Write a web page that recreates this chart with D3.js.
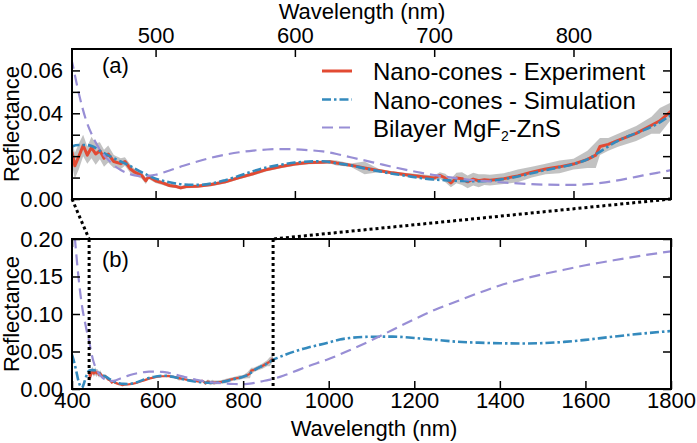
<!DOCTYPE html>
<html>
<head>
<meta charset="utf-8">
<script src="https://cdn.jsdelivr.net/npm/d3@7"></script>
<style>
  html, body { margin: 0; padding: 0; background: #fff; }
  svg { display: block; }
  text { font-family: "Liberation Sans", Arial, Helvetica, sans-serif; fill: #000; }
</style>
</head>
<body>
<svg id="chart" width="697" height="443"></svg>
<script>
// ---------- DATA ----------
const expWl = [440,442,445,448,451,454,457,460,463,466,470,475,478,482,485,490,493,495,500,505,
  510,515,518,522,530,540,550,560,570,580,590,600,610,620,625,630,640,650,660,670,
  680,690,700,704,708,712,716,720,724,728,732,736,740,750,760,770,780,790,800,810,
  816,819,825,832,845,856,862,870];
const expR = [0.022,0.0155,0.020,0.025,0.0205,0.024,0.021,0.0225,0.019,0.021,0.0175,0.0165,0.0175,0.014,0.0125,0.011,0.0085,0.0105,0.0085,0.0075,
  0.0063,0.0058,0.0052,0.0058,0.0060,0.0068,0.0080,0.0100,0.0118,0.0138,0.0152,0.0163,0.0170,0.0172,0.0174,0.0168,0.0158,0.0145,0.0133,0.0122,
  0.0113,0.0105,0.0098,0.0110,0.0098,0.0075,0.0098,0.0095,0.0080,0.0093,0.0085,0.0090,0.0088,0.0095,0.0108,0.0125,0.0140,0.0150,0.0163,0.0185,
  0.0205,0.0245,0.0255,0.0274,0.0306,0.0344,0.0365,0.041];
const expErr = [0.006,0.006,0.006,0.005,0.004,0.005,0.005,0.004,0.004,0.004,0.003,0.0025,0.002,0.002,0.0015,0.0015,0.0015,0.0012,0.001,0.001,
  0.0008,0.0008,0.0008,0.0008,0.0008,0.0008,0.0008,0.0008,0.0008,0.0008,0.0008,0.0008,0.0008,0.0008,0.0008,0.0012,0.0008,0.003,0.0008,0.0008,
  0.0008,0.001,0.0012,0.0015,0.002,0.002,0.0025,0.003,0.003,0.003,0.003,0.0025,0.0025,0.0025,0.003,0.0025,0.0025,0.003,0.0025,0.004,
  0.006,0.004,0.003,0.003,0.0035,0.004,0.006,0.004];

const simWl = [400,405,410,415,420,423,427,432,436,440,445,450,455,460,470,480,490,500,510,520,
  530,540,550,560,570,580,590,600,610,620,630,640,650,660,670,680,690,700,710,720,
  730,740,750,760,770,780,790,800,810,820,830,840,850,860,870,880,900,933,950,1000,
  1026,1050,1100,1150,1200,1250,1300,1350,1400,1450,1500,1550,1600,1650,1700,1750,1800];
const simR = [0.046,0.036,0.024,0.011,0.003,0.001,0.006,0.015,0.021,0.0245,0.0252,0.0252,0.0245,0.0225,0.019,0.016,0.0125,0.0095,0.0078,0.0068,
  0.0066,0.0072,0.0088,0.0108,0.013,0.0148,0.016,0.017,0.0175,0.0176,0.0167,0.0157,0.0143,0.013,0.0118,0.0108,0.0098,0.0091,0.0087,0.0084,
  0.0083,0.0085,0.0093,0.0105,0.012,0.0135,0.0148,0.0163,0.0185,0.0225,0.0265,0.0295,0.032,0.035,0.039,0.0415,0.046,0.0524,0.055,0.062,
  0.066,0.068,0.0697,0.0698,0.068,0.0655,0.063,0.0618,0.061,0.0607,0.0612,0.0628,0.0655,0.0688,0.072,0.0748,0.0773];

const bilWl = [400,405,410,415,420,425,430,435,440,445,450,455,460,465,470,475,480,485,490,495,
  500,510,520,530,540,550,560,570,580,590,600,610,620,630,640,650,660,670,680,690,
  700,710,720,730,740,750,760,770,780,790,800,810,820,830,840,850,860,870,900,950,
  1000,1050,1100,1150,1200,1250,1300,1350,1400,1450,1500,1550,1600,1650,1700,1750,1800];
const bilR = [0.27,0.215,0.18,0.15,0.125,0.105,0.09,0.076,0.064,0.049,0.037,0.029,0.023,0.019,0.0158,0.0135,0.012,0.011,0.0106,0.0108,
  0.0113,0.0133,0.0155,0.0175,0.0193,0.0207,0.0218,0.0226,0.0231,0.0233,0.0232,0.0228,0.0222,0.0210,0.0195,0.018,0.0165,0.015,0.0136,0.0123,
  0.0112,0.0102,0.0094,0.0087,0.0082,0.0077,0.0073,0.0069,0.0067,0.0066,0.0066,0.0069,0.0075,0.0085,0.0097,0.011,0.0122,0.0135,0.019,0.030,
  0.040,0.052,0.065,0.079,0.093,0.106,0.117,0.128,0.138,0.146,0.153,0.159,0.165,0.170,0.175,0.1795,0.1835];

const zoomRange = [440, 870];
const topXTicks = [500, 600, 700, 800];
const topYTicks = [0, 0.01, 0.02, 0.03, 0.04, 0.05, 0.06];
const topYLabeled = [0, 0.02, 0.04, 0.06];
const botXTicks = [400, 600, 800, 1000, 1200, 1400, 1600, 1800];
const botYTicks = [0, 0.05, 0.10, 0.15, 0.20];
const legendLabels = ["Nano-cones - Experiment", "Nano-cones - Simulation", "Bilayer MgF|2|-ZnS"];
const xLabel = "Wavelength (nm)";
const yLabel = "Reflectance";

// ---------- STYLE ----------
const C_RED = "#E24A33", C_BLUE = "#348ABD", C_PURPLE = "#988ED5", C_BAND = "#b3b3b3";
const FS = 22, FS_LEG = 24;

const svg = d3.select("#chart");
const L = 72, R = 671;
const topY = [49, 199], botY = [239, 389];

const xTop = d3.scaleLinear().domain(zoomRange).range([L, R]);
const yTop = d3.scaleLinear().domain([0, 0.07]).range([topY[1], topY[0]]);
const xBot = d3.scaleLinear().domain([400, 1800]).range([L, R]);
const yBot = d3.scaleLinear().domain([0, 0.2]).range([botY[1], botY[0]]);

const expData = expWl.map((w, i) => ({w, r: expR[i], e: expErr[i]}));
const simData = simWl.map((w, i) => ({w, r: simR[i]}));
const bilData = bilWl.map((w, i) => ({w, r: bilR[i]}));

const defs = svg.append("defs");
defs.append("clipPath").attr("id", "clipTop").append("rect")
  .attr("x", L).attr("y", topY[0]).attr("width", R - L).attr("height", topY[1] - topY[0]);
defs.append("clipPath").attr("id", "clipBot").append("rect")
  .attr("x", L).attr("y", botY[0]).attr("width", R - L).attr("height", botY[1] - botY[0]);

function drawPanel(x, y, clipId, lw) {
  const g = svg.append("g").attr("clip-path", `url(#${clipId})`);
  const area = d3.area().x(d => x(d.w)).y0(d => y(d.r - d.e)).y1(d => y(d.r + d.e)).curve(d3.curveLinear);
  g.append("path").datum(expData).attr("d", area).attr("fill", C_BAND).attr("opacity", 0.8);
  const line = d3.line().x(d => x(d.w)).y(d => y(d.r));
  const sline = d3.line().x(d => x(d.w)).y(d => y(d.r)).curve(d3.curveMonotoneX);
  g.append("path").datum(expData).attr("d", line).attr("fill", "none")
    .attr("stroke", C_RED).attr("stroke-width", lw.red).attr("stroke-linejoin", "round");
  g.append("path").datum(simData).attr("d", sline).attr("fill", "none")
    .attr("stroke", C_BLUE).attr("stroke-width", lw.blue).attr("stroke-dasharray", "9,3,2.5,3");
  g.append("path").datum(bilData).attr("d", sline).attr("fill", "none")
    .attr("stroke", C_PURPLE).attr("stroke-width", lw.purple).attr("stroke-dasharray", "11,6");
  return g;
}

drawPanel(xTop, yTop, "clipTop", {red: 3, blue: 2.6, purple: 2.2});
drawPanel(xBot, yBot, "clipBot", {red: 2.2, blue: 2.6, purple: 2.2});

// zoom indicator dotted lines
const dot = {stroke: "#000", "stroke-width": 3, "stroke-dasharray": "3,3"};
function dline(x1, y1, x2, y2) {
  const l = svg.append("line").attr("x1", x1).attr("y1", y1).attr("x2", x2).attr("y2", y2);
  Object.entries(dot).forEach(([k, v]) => l.attr(k, v));
}
dline(xTop(zoomRange[0]), yTop(0), xBot(zoomRange[0]), yBot(0.2));
dline(xTop(zoomRange[1]), yTop(0), xBot(zoomRange[1]), yBot(0.2));
dline(xBot(zoomRange[0]), yBot(0.2), xBot(zoomRange[0]), yBot(0));
dline(xBot(zoomRange[1]), yBot(0.2), xBot(zoomRange[1]), yBot(0));

// axes
function styleAxis(g) {
  g.select(".domain").remove();
  g.selectAll(".tick line").attr("stroke", "#000").attr("stroke-width", 1.5);
  g.selectAll(".tick text").attr("font-size", FS).attr("font-family", "Liberation Sans, Arial, sans-serif").attr("fill", "#000");
}
const TK = -8;
// top panel
svg.append("g").attr("transform", `translate(0,${topY[0]})`)
  .call(d3.axisTop(xTop).tickValues(topXTicks).tickSize(TK).tickPadding(6).tickFormat(d3.format("d"))).call(styleAxis);
svg.append("g").attr("transform", `translate(0,${topY[1]})`)
  .call(d3.axisBottom(xTop).tickValues(topXTicks).tickSize(TK).tickFormat("")).call(styleAxis);
svg.append("g").attr("transform", `translate(${L},0)`)
  .call(d3.axisLeft(yTop).tickValues(topYTicks).tickSize(TK).tickPadding(9)
    .tickFormat(d => topYLabeled.some(v => Math.abs(v - d) < 1e-9) ? d3.format(".2f")(d) : "")).call(styleAxis);
svg.append("g").attr("transform", `translate(${R},0)`)
  .call(d3.axisRight(yTop).tickValues(topYTicks).tickSize(TK).tickFormat("")).call(styleAxis);
// bottom panel
svg.append("g").attr("transform", `translate(0,${botY[1]})`)
  .call(d3.axisBottom(xBot).tickValues(botXTicks).tickSize(TK).tickPadding(3).tickFormat(d3.format("d"))).call(styleAxis);
svg.append("g").attr("transform", `translate(0,${botY[0]})`)
  .call(d3.axisTop(xBot).tickValues(botXTicks).tickSize(TK).tickFormat("")).call(styleAxis);
svg.append("g").attr("transform", `translate(${L},0)`)
  .call(d3.axisLeft(yBot).tickValues(botYTicks).tickSize(TK).tickPadding(9).tickFormat(d3.format(".2f"))).call(styleAxis);
svg.append("g").attr("transform", `translate(${R},0)`)
  .call(d3.axisRight(yBot).tickValues(botYTicks).tickSize(TK).tickFormat("")).call(styleAxis);

// frames
[topY, botY].forEach(yy => {
  svg.append("rect").attr("x", L).attr("y", yy[0]).attr("width", R - L).attr("height", yy[1] - yy[0])
    .attr("fill", "none").attr("stroke", "#000").attr("stroke-width", 2);
});

// axis titles
svg.append("text").attr("x", 362).attr("y", 18.5).attr("text-anchor", "middle").attr("font-size", FS).text(xLabel);
svg.append("text").attr("x", 374).attr("y", 436).attr("text-anchor", "middle").attr("font-size", FS).text(xLabel);
svg.append("text").attr("transform", `translate(19,${(topY[0] + topY[1]) / 2}) rotate(-90)`)
  .attr("text-anchor", "middle").attr("font-size", FS).text(yLabel);
svg.append("text").attr("transform", `translate(19,${(botY[0] + botY[1]) / 2}) rotate(-90)`)
  .attr("text-anchor", "middle").attr("font-size", FS).text(yLabel);

// panel labels
svg.append("text").attr("x", 102).attr("y", 73).attr("font-size", FS).text("(a)");
svg.append("text").attr("x", 102).attr("y", 267).attr("font-size", FS).text("(b)");

// legend
const legColors = [C_RED, C_BLUE, C_PURPLE];
const legDash = [null, "9,3,2.5,3", "11,6"];
const legW = [3, 2.6, 2.2];
const legY = [71, 99.5, 127.5];
legendLabels.forEach((lab, i) => {
  const ln = svg.append("line").attr("x1", 322).attr("x2", 352).attr("y1", legY[i]).attr("y2", legY[i])
    .attr("stroke", legColors[i]).attr("stroke-width", legW[i]);
  if (legDash[i]) ln.attr("stroke-dasharray", legDash[i]);
  const t = svg.append("text").attr("x", 373).attr("y", legY[i] + 9).attr("font-size", FS_LEG);
  const parts = lab.split("|");
  parts.forEach((p, j) => {
    const ts = t.append("tspan").text(p);
    if (j === 1) ts.attr("font-size", 14).attr("dy", 4);
    if (j === 2) ts.attr("dy", -4);
  });
});
</script>
</body>
</html>
